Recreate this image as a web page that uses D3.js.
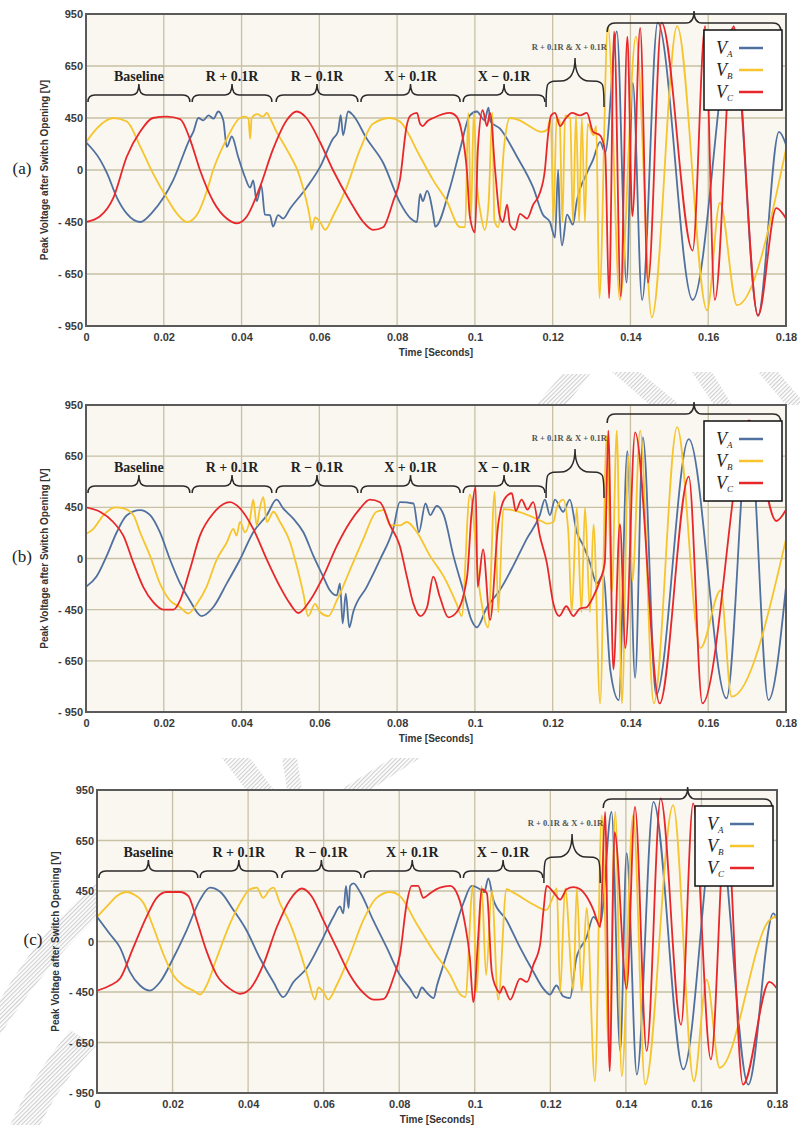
<!DOCTYPE html>
<html>
<head>
<meta charset="utf-8">
<script src="https://cdn.jsdelivr.net/npm/d3@7"></script>
<style>
  body { margin: 0; background: #fff; }
  svg text { font-family: "Liberation Sans", Arial, sans-serif; }
</style>
</head>
<body>
<div id="chart"></div>
<script>
// ---- data (time in s, voltage in V) ----
const timeTicks = [0, 0.02, 0.04, 0.06, 0.08, 0.1, 0.12, 0.14, 0.16, 0.18];
const timeLabels = ["0", "0.02", "0.04", "0.06", "0.08", "0.1", "0.12", "0.14", "0.16", "0.18"];
const voltTicks = [-950, -650, -450, 0, 450, 650, 950];
const voltLabels = ["- 950", "- 650", "- 450", "0", "450", "650", "950"];

const segLabels = ["Baseline", "R + 0.1R", "R \u2212 0.1R", "X + 0.1R", "X \u2212 0.1R", "R + 0.1R & X + 0.1R", ""];
const segStart = [0.0005, 0.0273, 0.0489, 0.0707, 0.097, 0.1183, 0.134];
const segEnd = [0.0267, 0.0478, 0.0699, 0.0962, 0.118, 0.1332, 0.1787];

const legendNames = ["A", "B", "C"];

// panel (a)
const aVA = [[0,240],[0.0036,90],[0.0054,-27],[0.008,-243],[0.0105,-378],[0.0139,-450],[0.0172,-360],[0.0224,-90],[0.0267,270],[0.0276,330],[0.0289,450],[0.0302,430],[0.0315,460],[0.0328,445],[0.034,475],[0.0353,430],[0.0362,200],[0.0375,290],[0.0391,117],[0.0409,-63],[0.0422,-153],[0.043,-90],[0.0439,-270],[0.0451,-135],[0.046,-387],[0.0473,-390],[0.0481,-468],[0.0494,-390],[0.0507,-420],[0.0525,-333],[0.0567,-153],[0.0602,27],[0.0635,270],[0.0648,333],[0.0655,461],[0.0661,300],[0.0674,475],[0.0687,460],[0.0722,270],[0.0764,63],[0.0807,-280],[0.0835,-420],[0.0851,-450],[0.0859,-207],[0.0866,-270],[0.0877,-180],[0.0893,-387],[0.0898,-468],[0.0936,-153],[0.0962,180],[0.0987,460],[0.1005,475],[0.1025,430],[0.1035,490],[0.104,420],[0.1064,360],[0.1108,117],[0.115,-153],[0.1175,-387],[0.1193,-450],[0.1206,-510],[0.1214,0],[0.1218,-400],[0.1224,-540],[0.1237,-387],[0.1252,-460],[0.1262,-270],[0.1288,-27],[0.1304,90],[0.1322,243],[0.1335,150],[0.1365,850],[0.139,-700],[0.1406,585],[0.143,-800],[0.147,900],[0.156,-800],[0.1664,870],[0.1728,-890],[0.1782,330],[0.18,220]];
const aVB = [[0,240],[0.0028,360],[0.0054,432],[0.007,450],[0.0105,420],[0.0139,207],[0.0172,-27],[0.0208,-243],[0.0234,-378],[0.026,-450],[0.0285,-390],[0.0311,-180],[0.0327,0],[0.0362,270],[0.0396,450],[0.041,455],[0.0418,440],[0.0422,270],[0.0426,450],[0.044,465],[0.0455,455],[0.0465,470],[0.0473,450],[0.049,330],[0.0516,180],[0.055,-60],[0.0567,-270],[0.0576,-420],[0.058,-480],[0.0589,-410],[0.0602,-450],[0.0615,-480],[0.0635,-400],[0.067,-150],[0.0705,180],[0.0738,400],[0.0782,450],[0.0807,420],[0.0859,117],[0.0893,-90],[0.0928,-270],[0.0962,-470],[0.0975,-470],[0.0983,470],[0.099,-420],[0.0997,470],[0.1005,-100],[0.1015,-380],[0.1025,-480],[0.1035,-300],[0.1045,470],[0.105,-430],[0.106,-470],[0.1075,200],[0.109,450],[0.1115,430],[0.1145,370],[0.117,330],[0.1185,345],[0.1195,450],[0.1202,-450],[0.121,450],[0.1218,420],[0.1225,-450],[0.1232,460],[0.1245,450],[0.1252,-450],[0.126,460],[0.1268,-450],[0.1275,450],[0.1283,-450],[0.129,400],[0.1305,300],[0.1312,380],[0.132,-790],[0.1342,880],[0.1373,-800],[0.1414,820],[0.1455,-900],[0.152,880],[0.1597,-860],[0.163,-285],[0.1674,-830],[0.18,180]];
const aVC = [[0,-450],[0.0036,-400],[0.007,-243],[0.0105,117],[0.0139,330],[0.0172,450],[0.0208,455],[0.0242,440],[0.0267,270],[0.0293,0],[0.0327,-270],[0.0362,-420],[0.0388,-455],[0.0414,-400],[0.0447,-150],[0.0481,180],[0.0516,430],[0.0542,475],[0.0567,450],[0.0602,240],[0.0635,0],[0.0679,-270],[0.0713,-450],[0.0738,-480],[0.0764,-470],[0.079,-270],[0.0807,-90],[0.0825,390],[0.0835,460],[0.0851,470],[0.0859,400],[0.0866,380],[0.0877,420],[0.0893,450],[0.0936,470],[0.0953,455],[0.0966,330],[0.098,-30],[0.0987,-400],[0.1,-490],[0.1008,200],[0.102,480],[0.1031,380],[0.1039,470],[0.1052,0],[0.1064,-400],[0.1072,-450],[0.1083,-300],[0.109,-460],[0.1103,-480],[0.1116,-380],[0.1134,-420],[0.115,-300],[0.1167,-200],[0.118,0],[0.1188,300],[0.1196,460],[0.1206,470],[0.1219,380],[0.1232,440],[0.125,470],[0.127,460],[0.1288,470],[0.1304,330],[0.1322,300],[0.1335,150],[0.1345,-790],[0.1358,850],[0.1375,-780],[0.1392,820],[0.1405,-400],[0.1425,870],[0.1445,-700],[0.148,900],[0.156,-560],[0.1592,880],[0.1617,-800],[0.1665,880],[0.1728,-890],[0.1775,-330],[0.18,-420]];

// panel (b)
const bVA = [[0,-249],[0.0027,-159],[0.0053,21],[0.0079,231],[0.0105,381],[0.0139,426],[0.0165,381],[0.019,231],[0.0216,-9],[0.0242,-219],[0.0267,-369],[0.0297,-475],[0.0327,-429],[0.0362,-219],[0.0396,-9],[0.043,231],[0.0465,381],[0.049,480],[0.0507,441],[0.0533,351],[0.0559,231],[0.0585,21],[0.061,-159],[0.0627,-279],[0.0645,-324],[0.0653,-219],[0.066,-504],[0.0668,-309],[0.0677,-519],[0.0687,-460],[0.0722,-249],[0.0756,-9],[0.079,261],[0.0807,470],[0.0842,465],[0.0856,231],[0.0873,465],[0.0885,381],[0.0902,456],[0.092,381],[0.0945,21],[0.097,-279],[0.0991,-490],[0.1005,-519],[0.1031,-429],[0.1064,-279],[0.1098,-69],[0.1133,171],[0.1167,381],[0.118,480],[0.1193,381],[0.1206,480],[0.1227,411],[0.1244,480],[0.1262,231],[0.1279,111],[0.1296,-39],[0.1313,-219],[0.133,-144],[0.1348,-700],[0.137,-880],[0.1392,680],[0.1412,-750],[0.1432,760],[0.1466,-850],[0.155,750],[0.1647,-870],[0.1705,850],[0.1755,-880],[0.18,-250]];
const bVB = [[0,216],[0.0019,261],[0.0045,381],[0.0075,450],[0.0096,441],[0.0122,381],[0.0139,231],[0.0165,21],[0.019,-219],[0.0216,-369],[0.0242,-429],[0.0263,-465],[0.0285,-399],[0.031,-249],[0.0336,-9],[0.0362,141],[0.0379,261],[0.0387,201],[0.0396,321],[0.0409,231],[0.0422,351],[0.043,480],[0.0439,291],[0.0447,441],[0.0456,490],[0.0465,321],[0.0482,411],[0.0499,321],[0.0525,141],[0.0542,-69],[0.0559,-309],[0.0571,-475],[0.0589,-399],[0.0602,-460],[0.0623,-475],[0.0645,-369],[0.0679,-99],[0.0713,171],[0.0747,411],[0.0765,426],[0.0782,291],[0.0807,291],[0.0825,321],[0.0851,231],[0.0885,21],[0.092,-159],[0.0953,-399],[0.0966,-475],[0.0987,500],[0.1013,-300],[0.1034,-519],[0.1051,510],[0.106,-460],[0.1073,435],[0.109,430],[0.1176,321],[0.1185,306],[0.1202,321],[0.121,441],[0.1227,480],[0.124,250],[0.1249,-460],[0.1262,450],[0.1274,-460],[0.1283,450],[0.1296,-460],[0.1305,300],[0.1322,-900],[0.1339,770],[0.1352,-300],[0.1365,800],[0.1378,-900],[0.1395,650],[0.1405,-200],[0.1425,800],[0.146,-900],[0.152,820],[0.158,-600],[0.1632,-280],[0.166,-860],[0.18,170]];
const bVC = [[0,450],[0.0036,411],[0.007,321],[0.0096,201],[0.0122,-39],[0.0147,-249],[0.0173,-384],[0.0199,-450],[0.0225,-450],[0.0242,-369],[0.0267,-99],[0.0293,201],[0.0327,396],[0.037,470],[0.0396,440],[0.043,261],[0.0465,-9],[0.0499,-249],[0.0525,-399],[0.0546,-463],[0.0576,-369],[0.061,-159],[0.0645,111],[0.0679,321],[0.0705,441],[0.073,480],[0.0756,470],[0.0782,291],[0.0807,111],[0.0825,-159],[0.0842,-399],[0.086,-475],[0.0877,-429],[0.0893,-159],[0.091,-339],[0.0932,-480],[0.0953,-460],[0.098,-159],[0.0991,381],[0.1002,530],[0.1007,-249],[0.1021,81],[0.1039,-490],[0.106,300],[0.1075,480],[0.1095,505],[0.1105,420],[0.112,480],[0.1135,430],[0.115,470],[0.1167,200],[0.1185,-39],[0.1202,-400],[0.1217,-475],[0.1235,-420],[0.1253,-475],[0.127,-440],[0.1287,-430],[0.1304,-339],[0.1322,-190],[0.1334,-40],[0.1343,800],[0.1356,-700],[0.1373,300],[0.1387,-600],[0.1412,790],[0.1475,-900],[0.155,570],[0.1585,-900],[0.1705,860],[0.1775,330],[0.18,430]];

// panel (c)
const cVA = [[0,220],[0.0034,67],[0.0061,-55],[0.0087,-270],[0.0114,-392],[0.014,-438],[0.0167,-361],[0.0202,-147],[0.0237,98],[0.0273,373],[0.0299,463],[0.0326,443],[0.0361,281],[0.0396,98],[0.0431,-147],[0.0467,-361],[0.0493,-470],[0.052,-361],[0.0555,-239],[0.059,-24],[0.0626,220],[0.0643,312],[0.0652,251],[0.0659,470],[0.0666,297],[0.067,470],[0.0679,480],[0.0696,443],[0.0731,190],[0.0767,-55],[0.0802,-300],[0.0829,-422],[0.0846,-474],[0.086,-410],[0.0873,-453],[0.0891,-474],[0.09,-392],[0.0917,-208],[0.0943,67],[0.097,343],[0.0992,470],[0.1014,457],[0.1025,440],[0.1036,500],[0.1049,373],[0.1084,190],[0.112,-55],[0.1155,-270],[0.1182,-422],[0.1199,-460],[0.1216,-392],[0.1234,-467],[0.1252,-474],[0.1269,-147],[0.1296,37],[0.1314,220],[0.1332,160],[0.1362,820],[0.1385,-700],[0.1402,600],[0.1429,-840],[0.1473,880],[0.1552,-810],[0.1641,830],[0.1724,-900],[0.179,250],[0.18,200]];
const cVB = [[0,220],[0.0026,312],[0.0052,404],[0.0079,441],[0.0096,422],[0.0123,343],[0.0149,129],[0.0176,-116],[0.0202,-300],[0.0229,-392],[0.0255,-438],[0.0273,-460],[0.029,-392],[0.0317,-147],[0.0352,159],[0.0379,343],[0.0405,457],[0.0423,463],[0.044,389],[0.0458,457],[0.0467,463],[0.0484,343],[0.0511,159],[0.0537,-86],[0.0559,-330],[0.0577,-480],[0.0586,-410],[0.0599,-450],[0.0612,-480],[0.0634,-392],[0.067,-116],[0.0705,190],[0.074,389],[0.0776,441],[0.0802,404],[0.0846,159],[0.0891,-86],[0.0935,-300],[0.0962,-460],[0.0975,-470],[0.0995,470],[0.1005,-450],[0.1018,470],[0.103,-300],[0.1045,450],[0.1062,-480],[0.1084,457],[0.11,440],[0.1155,330],[0.1189,280],[0.1208,404],[0.1217,460],[0.1226,-450],[0.1239,460],[0.1261,-430],[0.127,460],[0.1283,-450],[0.1296,300],[0.1318,-880],[0.1336,800],[0.1355,-700],[0.1372,820],[0.1389,-850],[0.1419,800],[0.1451,-900],[0.1525,860],[0.158,-880],[0.1614,-340],[0.1648,-800],[0.178,190],[0.18,230]];
const cVC = [[0,-438],[0.0034,-392],[0.0061,-330],[0.0096,-55],[0.0131,220],[0.0158,389],[0.0184,441],[0.022,441],[0.0242,404],[0.0264,190],[0.029,-86],[0.0317,-300],[0.0352,-422],[0.0379,-457],[0.0405,-422],[0.044,-208],[0.0476,129],[0.0511,373],[0.0542,460],[0.0568,404],[0.0599,190],[0.0634,-55],[0.067,-300],[0.0705,-453],[0.0731,-480],[0.0758,-478],[0.0784,-330],[0.0802,-116],[0.082,343],[0.0833,470],[0.085,470],[0.0864,389],[0.0882,430],[0.0908,463],[0.0935,470],[0.0956,404],[0.0974,159],[0.0987,-147],[0.0996,-490],[0.1009,37],[0.1018,457],[0.1032,430],[0.1045,-270],[0.1058,-422],[0.1067,-453],[0.1075,-400],[0.1094,-480],[0.112,-330],[0.1138,-360],[0.1155,-208],[0.1173,-24],[0.1182,282],[0.119,470],[0.1208,440],[0.1226,373],[0.1243,457],[0.1261,465],[0.1279,457],[0.1296,400],[0.1314,282],[0.1332,129],[0.1345,820],[0.1357,-820],[0.137,700],[0.1402,-420],[0.1424,850],[0.1455,-700],[0.1492,900],[0.1546,-580],[0.1578,870],[0.1625,-750],[0.1665,800],[0.171,-900],[0.178,-360],[0.18,-420]];

// ---- drawing ----
const width = 800;
const height = 1125;
const COLORS = ["#50709f", "#f6c42c", "#e8272b"];

const svg = d3.select("#chart")
  .append("svg")
  .attr("width", width)
  .attr("height", height);

const defs = svg.append("defs");
defs.append("pattern")
  .attr("id", "hatch")
  .attr("patternUnits", "userSpaceOnUse")
  .attr("width", 3)
  .attr("height", 3)
  .attr("patternTransform", "rotate(45)")
  .append("rect")
  .attr("width", 1.2)
  .attr("height", 3)
  .attr("fill", "#cfcfcf");

// faint watermark stripes behind the panels
const watermark = [
  "M536,405 L562,374 L590,374 L566,405 Z",
  "M612,372 L640,372 L680,405 L650,405 Z",
  "M692,372 L712,372 L732,405 L714,405 Z",
  "M758,372 L778,372 L800,398 L800,405 L786,405 Z",
  "M222,758 L250,758 L274,790 L246,790 Z",
  "M282,758 L297,758 L302,790 L287,790 Z",
  "M340,790 L370,790 L420,758 L392,758 Z",
  "M100,880 Q40,930 0,1000 L0,1035 Q55,950 122,895 Z",
  "M70,1030 Q30,1080 10,1125 L40,1125 Q62,1080 96,1046 Z"
];
svg.append("g")
  .selectAll("path")
  .data(watermark)
  .enter()
  .append("path")
  .attr("d", (d) => d)
  .attr("fill", "url(#hatch)");

const panels = [
  { label: "(a)", left: 86, right: 786, top: 14, bottom: 326, series: [aVA, aVB, aVC] },
  { label: "(b)", left: 86, right: 786, top: 405, bottom: 712, series: [bVA, bVB, bVC] },
  { label: "(c)", left: 97, right: 777, top: 790, bottom: 1093, series: [cVA, cVB, cVC] }
];

function bracePath(x1, x2, yEnd, yLine, yTip, r) {
  const m = (x1 + x2) / 2;
  return `M${x1},${yEnd} Q${x1},${yLine} ${x1 + r},${yLine} L${m - r},${yLine} ` +
    `Q${m},${yLine} ${m},${yTip} Q${m},${yLine} ${m + r},${yLine} ` +
    `L${x2 - r},${yLine} Q${x2},${yLine} ${x2},${yEnd}`;
}

function tallBrace(x1, x2, yEnd, yLine, yTip) {
  const m = (x1 + x2) / 2;
  return `M${x1},${yEnd} C${x1},${yLine} ${x1},${yLine} ${(x1 + m) / 2},${yLine} ` +
    `Q${m},${yLine} ${m},${yTip} Q${m},${yLine} ${(m + x2) / 2},${yLine} ` +
    `C${x2},${yLine} ${x2},${yLine} ${x2},${yEnd}`;
}

panels.forEach((p, pi) => {
  const x = d3.scaleLinear().domain([0, 0.18]).range([p.left, p.right]);
  const step = (p.bottom - p.top) / 6;
  const y = d3.scaleLinear()
    .domain(voltTicks)
    .range(voltTicks.map((d, k) => p.bottom - k * step));

  const g = svg.append("g");

  g.append("rect")
    .attr("x", p.left)
    .attr("y", p.top)
    .attr("width", p.right - p.left)
    .attr("height", p.bottom - p.top)
    .attr("fill", "#f9f7f0");

  // grid
  g.selectAll("line.vgrid")
    .data(timeTicks)
    .enter()
    .append("line")
    .attr("x1", (d) => x(d))
    .attr("x2", (d) => x(d))
    .attr("y1", p.top)
    .attr("y2", p.bottom)
    .attr("stroke", "#c9c1a3")
    .attr("stroke-width", 1.3);

  g.selectAll("line.hgrid")
    .data(voltTicks)
    .enter()
    .append("line")
    .attr("x1", p.left)
    .attr("x2", p.right)
    .attr("y1", (d) => y(d))
    .attr("y2", (d) => y(d))
    .attr("stroke", "#c9c1a3")
    .attr("stroke-width", 1.3);

  // axes (labels only)
  const yAxis = g.append("g")
    .attr("transform", `translate(${p.left},0)`)
    .call(d3.axisLeft(y).tickValues(voltTicks).tickSize(0).tickPadding(3)
      .tickFormat((d, i) => voltLabels[i]));
  yAxis.select(".domain").remove();

  const xAxis = g.append("g")
    .attr("transform", `translate(0,${p.bottom})`)
    .call(d3.axisBottom(x).tickValues(timeTicks).tickSize(0).tickPadding(7)
      .tickFormat((d, i) => timeLabels[i]));
  xAxis.select(".domain").remove();

  g.selectAll(".tick text")
    .attr("font-size", 11)
    .attr("font-weight", "bold")
    .attr("fill", "#3a3a3a")
    .style("font-family", "'Liberation Sans', Arial, sans-serif");

  // series
  const clipId = "clip" + pi;
  defs.append("clipPath")
    .attr("id", clipId)
    .append("rect")
    .attr("x", p.left)
    .attr("y", p.top)
    .attr("width", p.right - p.left)
    .attr("height", p.bottom - p.top);

  const line = d3.line()
    .x((d) => x(d[0]))
    .y((d) => y(d[1]))
    .curve(d3.curveMonotoneX);

  g.append("g")
    .attr("clip-path", `url(#${clipId})`)
    .selectAll("path")
    .data(p.series)
    .enter()
    .append("path")
    .attr("d", (d) => line(d))
    .attr("fill", "none")
    .attr("stroke", (d, i) => COLORS[i])
    .attr("stroke-width", 1.8)
    .attr("stroke-linejoin", "round");

  // frame
  g.append("rect")
    .attr("x", p.left)
    .attr("y", p.top)
    .attr("width", p.right - p.left)
    .attr("height", p.bottom - p.top)
    .attr("fill", "none")
    .attr("stroke", "#5a5a5a")
    .attr("stroke-width", 2);

  // braces and segment labels
  segStart.forEach((s, i) => {
    const x1 = x(s);
    const x2 = x(segEnd[i]);
    const mid = (x1 + x2) / 2;
    let d;
    if (i < 5) {
      d = bracePath(x1, x2, p.top + 88, p.top + 81, p.top + 70, 7);
      g.append("text")
        .attr("x", mid)
        .attr("y", p.top + 64)
        .attr("text-anchor", "middle")
        .attr("dominant-baseline", "middle")
        .attr("font-size", 14)
        .attr("font-weight", "bold")
        .style("font-family", "'Liberation Serif', 'DejaVu Serif', serif")
        .attr("fill", "#222")
        .text(segLabels[i]);
    } else if (i === 5) {
      d = tallBrace(x1, x2, p.top + 93, p.top + 67, p.top + 44);
      g.append("text")
        .attr("x", x2 + 3)
        .attr("y", p.top + 34)
        .attr("text-anchor", "end")
        .attr("dominant-baseline", "middle")
        .attr("font-size", 8.5)
        .attr("font-weight", "bold")
        .style("font-family", "'Liberation Serif', 'DejaVu Serif', serif")
        .attr("fill", "#555")
        .text(segLabels[i]);
    } else {
      d = bracePath(x1, x2, p.top + 18, p.top + 9, p.top - 3, 8);
    }
    g.append("path")
      .attr("d", d)
      .attr("fill", "none")
      .attr("stroke", "#2a2a2a")
      .attr("stroke-width", 1.5);
  });

  // legend
  const lx = p.right - 82;
  const ly = p.top + 16;
  const legend = g.append("g").attr("transform", `translate(${lx},${ly})`);
  legend.append("rect")
    .attr("width", 78)
    .attr("height", 80)
    .attr("fill", "#fff")
    .attr("stroke", "#111")
    .attr("stroke-width", 1.5);
  legendNames.forEach((n, i) => {
    const cy = 18 + i * 22;
    legend.append("text")
      .attr("x", 12)
      .attr("y", cy + 6)
      .attr("font-size", 18)
      .attr("font-style", "italic")
      .style("font-family", "'Liberation Serif', 'DejaVu Serif', serif")
      .attr("fill", "#222")
      .text("V");
    legend.append("text")
      .attr("x", 23)
      .attr("y", cy + 9)
      .attr("font-size", 9)
      .attr("font-style", "italic")
      .style("font-family", "'Liberation Serif', 'DejaVu Serif', serif")
      .attr("fill", "#222")
      .text(n);
    legend.append("line")
      .attr("x1", 35)
      .attr("x2", 59)
      .attr("y1", cy)
      .attr("y2", cy)
      .attr("stroke", COLORS[i])
      .attr("stroke-width", 2.5);
  });

  // titles
  const midY = (p.top + p.bottom) / 2;
  g.append("text")
    .attr("transform", `translate(${p.left - 38},${midY}) rotate(-90)`)
    .attr("text-anchor", "middle")
    .attr("font-size", 10)
    .attr("font-weight", "bold")
    .attr("fill", "#333")
    .text("Peak Voltage  after Switch Opening [V]");

  g.append("text")
    .attr("x", (p.left + p.right) / 2)
    .attr("y", p.bottom + 27)
    .attr("text-anchor", "middle")
    .attr("dominant-baseline", "middle")
    .attr("font-size", 10)
    .attr("font-weight", "bold")
    .attr("fill", "#333")
    .text("Time [Seconds]");

  g.append("text")
    .attr("x", p.left - 64)
    .attr("y", midY)
    .attr("text-anchor", "middle")
    .attr("dominant-baseline", "middle")
    .attr("font-size", 17)
    .style("font-family", "'Liberation Serif', 'DejaVu Serif', serif")
    .attr("fill", "#222")
    .text(p.label);
});
</script>
</body>
</html>
